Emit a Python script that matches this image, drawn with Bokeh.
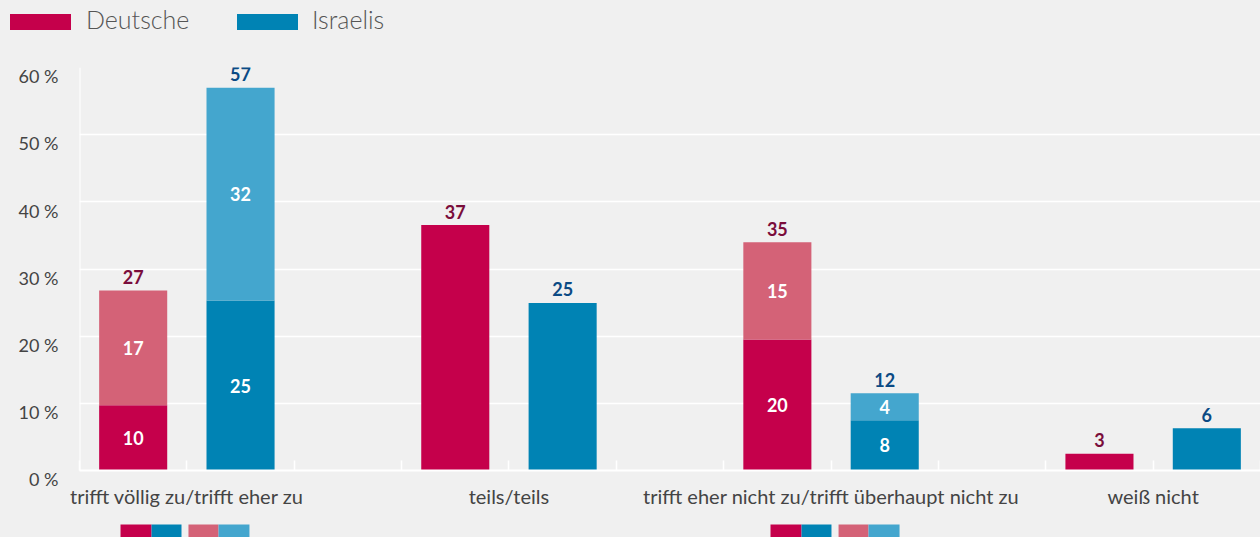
import numpy as np
from bokeh.plotting import figure
from bokeh.layouts import column
from bokeh.models import ColumnDataSource, Range1d, FixedTicker, Span, Div
from bokeh.core.properties import value
from bokeh.embed import file_html
from bokeh.resources import INLINE

# ---------------- data ----------------
categories = ["trifft völlig zu/trifft eher zu", "teils/teils",
              "trifft eher nicht zu/trifft überhaupt nicht zu", "weiß nicht"]
series_names = ["Deutsche", "Israelis"]

# lower (strong) and upper (weak) parts of the bars, in percent
de_strong = [9.7, 36.55, 19.5, 2.5]
de_weak = [17.1, 0.0, 14.5, 0.0]
il_strong = [25.3, 24.95, 7.5, 6.3]
il_weak = [31.7, 0.0, 4.0, 0.0]

# printed value labels
de_strong_labels = ["10", "", "20", ""]
de_weak_labels = ["17", "", "15", ""]
de_total_labels = ["27", "37", "35", "3"]
il_strong_labels = ["25", "", "8", ""]
il_weak_labels = ["32", "", "4", ""]
il_total_labels = ["57", "25", "12", "6"]

y_ticks = [0, 10, 20, 30, 40, 50, 60]
y_tick_labels = ["0 %", "10 %", "20 %", "30 %", "40 %", "50 %", "60 %"]

# ---------------- styles ----------------
DE = "#c5004b"
DE_L = "#d46277"
IL = "#0083b4"
IL_L = "#44a6ce"
DE_TXT = "#7a0d3b"
IL_TXT = "#0b4a84"
BG = "#f0f0f0"
FONT = "Lato"
TXT = "#444444"
W = 1260

n = len(categories)
idx = np.arange(n)
slots_per_cat = 3
x_de = idx * slots_per_cat + 0.5
x_il = idx * slots_per_cat + 1.5
x_max = n * slots_per_cat - 1

des = np.array(de_strong)
dew = np.array(de_weak)
ils = np.array(il_strong)
ilw = np.array(il_weak)

src = ColumnDataSource(dict(
    x_de=x_de, x_il=x_il,
    de_strong=des, de_weak=dew, il_strong=ils, il_weak=ilw,
    de_mid1=des / 2, de_mid2=des + dew / 2, de_top=des + dew,
    il_mid1=ils / 2, il_mid2=ils + ilw / 2, il_top=ils + ilw,
    de_strong_labels=de_strong_labels, de_weak_labels=de_weak_labels,
    de_total_labels=de_total_labels,
    il_strong_labels=il_strong_labels, il_weak_labels=il_weak_labels,
    il_total_labels=il_total_labels,
))

# ---------------- top strip: legend (HTML) ----------------
TOP_H = 40
sw = "position:absolute;top:14px;width:61px;height:16px;"
tx = ("position:absolute;top:4px;line-height:30px;font-family:Lato,sans-serif;"
      "font-weight:300;font-size:25px;color:#555555;white-space:nowrap;")
legend_html = (
    f'<div style="position:relative;width:{W}px;height:{TOP_H}px;background:{BG};">'
    f'<span style="{sw}left:10px;background:{DE};"></span>'
    f'<span style="{tx}left:86px;">{series_names[0]}</span>'
    f'<span style="{sw}left:237px;background:{IL};"></span>'
    f'<span style="{tx}left:312px;">{series_names[1]}</span>'
    '</div>'
)
top = Div(text=legend_html, width=W, height=TOP_H, margin=0,
          styles={"background-color": BG})

# ---------------- main chart ----------------
p = figure(width=W, height=510 - TOP_H,
           x_range=Range1d(0, x_max), y_range=Range1d(0, 60),
           output_backend="svg", toolbar_location=None,
           min_border_left=79, min_border_right=0,
           min_border_top=67 - TOP_H, min_border_bottom=39,
           background_fill_color=BG, border_fill_color=BG,
           outline_line_color=None)

# grid
p.xgrid.grid_line_color = None
p.ygrid.ticker = FixedTicker(ticks=y_ticks)
p.ygrid.grid_line_color = "white"
p.ygrid.grid_line_width = 1.5

# y axis: two-line labels (blank first line) so the text sits below its grid line
p.yaxis.ticker = FixedTicker(ticks=y_ticks)
p.yaxis.major_label_overrides = {t: " \n" + s for t, s in zip(y_ticks, y_tick_labels)}
p.yaxis.major_tick_line_color = None
p.yaxis.minor_tick_line_color = None
p.yaxis.axis_line_color = None
p.yaxis.major_label_text_font = FONT
p.yaxis.major_label_text_font_size = "18px"
p.yaxis.major_label_text_line_height = 0.8
p.yaxis.major_label_text_color = TXT
p.yaxis.major_label_standoff = 15
p.add_layout(Span(location=0, dimension="height", line_color="white",
                  line_width=2))

# x axis
x_ticks = list(range(x_max + 1))
x_labels = {t: "" for t in x_ticks}
for i, c in enumerate(categories):
    x_labels[int(i * slots_per_cat + 1)] = c
p.xaxis.ticker = FixedTicker(ticks=x_ticks)
p.xaxis.major_label_overrides = x_labels
p.xaxis.major_tick_in = 10
p.xaxis.major_tick_out = 0
p.xaxis.major_tick_line_color = "white"
p.xaxis.major_tick_line_width = 1.5
p.xaxis.minor_tick_line_color = None
p.xaxis.axis_line_color = "white"
p.xaxis.axis_line_width = 2
p.xaxis.major_label_text_font = FONT
p.xaxis.major_label_text_font_size = "20px"
p.xaxis.major_label_text_color = TXT
p.xaxis.major_label_standoff = 13

# bars
bw = 0.634
r_de = p.vbar_stack(["de_strong", "de_weak"], x="x_de", width=bw,
                    fill_color=[DE, DE_L], line_color=None, source=src)
r_il = p.vbar_stack(["il_strong", "il_weak"], x="x_il", width=bw,
                    fill_color=[IL, IL_L], line_color=None, source=src)

# labels
lbl_kw = dict(source=src, text_font=value(FONT), text_font_style="bold",
              text_font_size="18px", text_align="center",
              text_baseline="middle")
p.text(x="x_de", y="de_mid1", text="de_strong_labels", text_color="white", **lbl_kw)
p.text(x="x_de", y="de_mid2", text="de_weak_labels", text_color="white", **lbl_kw)
p.text(x="x_il", y="il_mid1", text="il_strong_labels", text_color="white", **lbl_kw)
p.text(x="x_il", y="il_mid2", text="il_weak_labels", text_color="white", **lbl_kw)
p.text(x="x_de", y="de_top", text="de_total_labels", text_color=DE_TXT,
       y_offset=-13.5, **lbl_kw)
p.text(x="x_il", y="il_top", text="il_total_labels", text_color=IL_TXT,
       y_offset=-13.5, **lbl_kw)

# ---------------- bottom strip: small colour keys ----------------
keys = figure(width=W, height=27, x_range=p.x_range, y_range=Range1d(0, 27),
              output_backend="svg", toolbar_location=None,
              x_axis_location=None, y_axis_location=None,
              min_border_left=79, min_border_right=0,
              min_border_top=0, min_border_bottom=0,
              background_fill_color=BG, border_fill_color=BG,
              outline_line_color=None)
keys.grid.visible = False
key_left = [0.382, 0.671, 1.015, 1.295, 6.436, 6.725, 7.070, 7.349]
key_right = [0.671, 0.950, 1.295, 1.583, 6.725, 7.004, 7.349, 7.638]
key_color = [DE, IL, DE_L, IL_L, DE, IL, DE_L, IL_L]
keys.quad(left=key_left, right=key_right, bottom=-1, top=13,
          fill_color=key_color, line_color=None)

layout = column(top, p, keys, spacing=0, styles={"background-color": BG})
open("out.html", "w").write(file_html(layout, INLINE))
